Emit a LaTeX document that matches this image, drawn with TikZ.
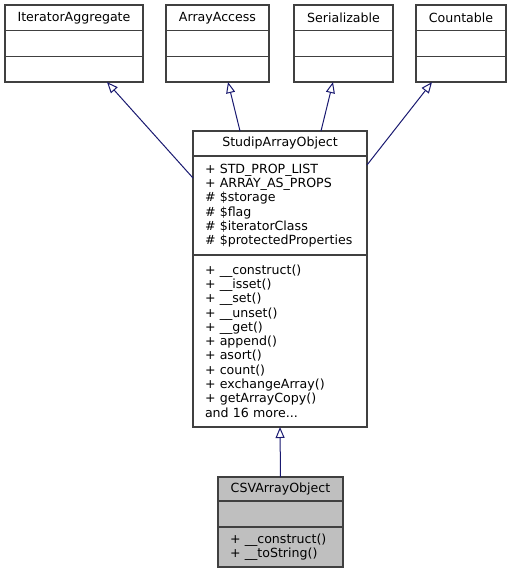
\documentclass[tikz,border=0pt]{standalone}
\usepackage{fontspec}
\setmainfont{DejaVu Sans}
\usetikzlibrary{positioning,arrows.meta}
\definecolor{edgeblue}{HTML}{191970}
\definecolor{boxline}{HTML}{404040}
\definecolor{boxgray}{HTML}{BFBFBF}
\tikzset{
  classpart/.style args={#1,#2}{
  draw=boxline,
  fill=white,
  line width=1.3pt,
  text width=#1 pt - 24pt,
  minimum height=#2 pt,
  inner xsep=12pt,
  inner ysep=0pt,
  outer sep=0pt,
  align=left,
  },
  classtitle/.style args={#1,#2}{
  classpart={#1,#2},
  align=center,
  },
  curpart/.style args={#1,#2}{
  classpart={#1,#2},
  fill=boxgray,
  },
  inherit/.style={draw=edgeblue,line width=1pt,-{Triangle[open,length=11pt,width=9pt]}},
}

\begin{document}
\begin{tikzpicture}[x=1pt,y=-1pt,every node/.style={font=\fontsize{12.6}{14.3}\selectfont}]
  \useasboundingbox (0,0) rectangle (510,573);

  % base classes
  \node [classtitle={138,25.7},anchor=north] (iat) at (74,5) {IteratorAggregate};
  \node [classpart={138,25.7},below=0pt of iat] (iaa) {};
  \node [classpart={138,25.7},below=0pt of iaa] (iam) {};

  \node [classtitle={103,25.7},anchor=north] (aat) at (217.5,5) {ArrayAccess};
  \node [classpart={103,25.7},below=0pt of aat] (aaa) {};
  \node [classpart={103,25.7},below=0pt of aaa] (aam) {};

  \node [classtitle={99,25.7},anchor=north] (set) at (343.5,5) {Serializable};
  \node [classpart={99,25.7},below=0pt of set] (sea) {};
  \node [classpart={99,25.7},below=0pt of sea] (sem) {};

  \node [classtitle={90,25.7},anchor=north] (cot) at (461,5) {Countable};
  \node [classpart={90,25.7},below=0pt of cot] (coa) {};
  \node [classpart={90,25.7},below=0pt of coa] (com) {};

  % StudipArrayObject
  \node [classtitle={174,25},anchor=north] (st) at (280,131) {StudipArrayObject};
  \node [classpart={174,99},below=0pt of st] (sa) {+ STD\_PROP\_LIST\\+ ARRAY\_AS\_PROPS\\\# \$storage\\\# \$flag\\\# \$iteratorClass\\\# \$protectedProperties};
  \node [classpart={174,172},below=0pt of sa] (sm) {+ \_\_construct()\\+ \_\_isset()\\+ \_\_set()\\+ \_\_unset()\\+ \_\_get()\\+ append()\\+ asort()\\+ count()\\+ exchangeArray()\\+ getArrayCopy()\\and 16 more...};

  % CSVArrayObject
  \node [curpart={125,24},align=center,anchor=north] (ct) at (280.5,477) {CSVArrayObject};
  \node [curpart={125,26},below=0pt of ct] (ca) {};
  \node [curpart={125,40},below=0pt of ca] (cm) {+ \_\_construct()\\+ \_\_toString()};

  \draw [inherit] ([yshift=-22pt]sa.north west) -- ([xshift=33pt]iam.south);
  \draw [inherit] ([xshift=47pt]st.north west) -- ([xshift=10.5pt]aam.south);
  \draw [inherit] ([xshift=128pt]st.north west) -- ([xshift=-10.5pt]sem.south);
  \draw [inherit] ([yshift=-9pt]sa.north east) -- ([xshift=-29pt]com.south);
  \draw [inherit] (ct.north) -- (sm.south);
\end{tikzpicture}
\end{document}
